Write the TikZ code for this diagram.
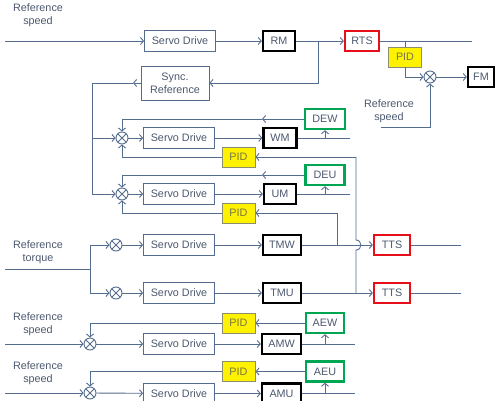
\documentclass[tikz,border=0pt]{standalone}
\usepackage{fontspec}
\setmainfont{Liberation Sans}
\usetikzlibrary{arrows.meta}
\definecolor{wire}{RGB}{84,108,142}
\definecolor{ink}{RGB}{76,88,110}
\definecolor{encgreen}{RGB}{0,166,82}
\definecolor{tsred}{RGB}{232,16,24}
\definecolor{pidline}{RGB}{140,140,110}
\definecolor{pidtext}{RGB}{118,118,70}
\tikzset{
	drive/.style={draw=wire, text=ink, align=center, minimum width=71, minimum height=21, inner sep=0},
	motor/.style={draw=black, line width=2.4pt, text=ink, minimum height=20, inner sep=0},
	sensor/.style={draw=tsred, line width=2.4pt, text=ink, minimum height=20, inner sep=0},
	encoder/.style={draw=encgreen, line width=2.4pt, text=ink, minimum height=20, inner sep=0},
	pidbox/.style={draw=pidline, fill=yellow, text=pidtext, minimum width=33, minimum height=20, inner sep=0},
	sumc/.style={circle, draw=wire, minimum size=12, inner sep=0,
		path picture={\draw[wire] (path picture bounding box.north west) -- (path picture bounding box.south east)
			(path picture bounding box.south west) -- (path picture bounding box.north east);}},
	lbl/.style={text=ink, align=center}
}

\begin{document}
\begin{tikzpicture}[x=1pt, y=-1pt, line width=0.9pt, color=wire,
		font=\fontsize{10.8}{13}\selectfont, >={Straight Barb[length=3pt,width=7pt]}]
			%%%%% START %%%%%
			\useasboundingbox (0,0) rectangle (496,401);
			\clip (0,0) rectangle (496,401);
			
			% reference speed -> RM -> RTS -> FM
			\node[lbl] (refA) at (38,15) {Reference\\speed};
			\coordinate (inA) at (5,41);
			\node[drive] (sdR) at (180,41) {Servo Drive};
			\node[motor, minimum width=32] (rm) at (279,41) {RM};
			\node[sensor, minimum width=34] (rtsR) at (362,41) {RTS};
			\coordinate (outR) at (472,41);
			\coordinate (tapR) at (318,41);
			\coordinate (tapP) at (405,41);
			\draw[->] (inA) -- (sdR);
			\draw[->] (sdR) -- (rm);
			\draw[->] (rm) -- (rtsR);
			\draw (rtsR) -- (outR);
			
			\node[pidbox] (pidF) at (405,57) {PID};
			\node[sumc] (sumF) at (430,77) {};
			\node[motor, minimum width=26] (fm) at (481,77) {FM};
			\node[lbl] (refF) at (389,111) {Reference\\speed};
			\coordinate (inF) at (381,127);
			\draw (tapP) -- (pidF);
			\draw[->] (pidF) |- (sumF);
			\draw[->] (sumF) -- (fm);
			\draw[->] (inF) -| (sumF);
			
			% sync reference
			\node[drive, minimum width=68, minimum height=34] (sync) at (175,83) {Sync.\\Reference};
			\coordinate (syncA) at (133,83);
			\coordinate (busT) at (92,83);
			\coordinate (busW) at (92,138);
			\coordinate (busU) at (92,194);
			\draw[->] (tapR) |- (sync);
			\draw[->] (sync) -- (syncA);
			\draw (syncA) -- (busT) -- (busU);
			
			% WM
			\node[sumc] (sumW) at (122,138) {};
			\node[drive] (sdW) at (179,138) {Servo Drive};
			\node[motor, minimum width=33] (wm) at (280,138) {WM};
			\node[encoder, minimum width=40] (dew) at (325,119) {DEW};
			\node[pidbox] (pidW) at (238.5,157) {PID};
			\coordinate (tapW) at (325,138);
			\coordinate (endW) at (350,138);
			\coordinate (midW) at (262,119);
			\coordinate (fbW) at (356,157);
			\draw[->] (busW) -- (sumW);
			\draw[->] (sumW) -- (sdW);
			\draw[->] (sdW) -- (wm);
			\draw (wm) -- (endW);
			\draw[->] (tapW) -- (dew);
			\draw[->] (dew) -- (midW);
			\draw[->] (midW) -| (sumW);
			\draw[->] (pidW) -| (sumW);
			\draw[->] (fbW) -- (pidW);
			
			% UM
			\node[sumc] (sumU) at (122,194) {};
			\node[drive] (sdU) at (179,194) {Servo Drive};
			\node[motor, minimum width=32] (um) at (280,194) {UM};
			\node[encoder, minimum width=39] (deu) at (325,175) {DEU};
			\node[pidbox] (pidU) at (238.5,213) {PID};
			\coordinate (tapU) at (325,194);
			\coordinate (endU) at (350,194);
			\coordinate (midU) at (262,175);
			\coordinate (fbU) at (337,213);
			\draw[->] (busU) -- (sumU);
			\draw[->] (sumU) -- (sdU);
			\draw[->] (sdU) -- (um);
			\draw (um) -- (endU);
			\draw[->] (tapU) -- (deu);
			\draw[->] (deu) -- (midU);
			\draw[->] (midU) -| (sumU);
			\draw[->] (pidU) -| (sumU);
			\draw[->] (fbU) -- (pidU);
			
			% reference torque -> TMW / TMU
			\node[lbl] (refT) at (38,252) {Reference\\torque};
			\coordinate (inT) at (5,269);
			\coordinate (busTM) at (90,269);
			\coordinate (busTW) at (90,245);
			\coordinate (busTU) at (90,293);
			\draw (inT) -- (busTM);
			\draw (busTW) -- (busTU);
			
			\node[sumc] (sumTW) at (116,245) {};
			\node[drive] (sdTW) at (179,245) {Servo Drive};
			\node[motor, minimum width=38] (tmw) at (282,245) {TMW};
			\node[sensor, minimum width=36] (ttsW) at (392,245) {TTS};
			\coordinate (tapTW) at (337,245);
			\coordinate (endTW) at (461,245);
			\draw[->] (busTW) -- (sumTW);
			\draw[->] (sumTW) -- (sdTW);
			\draw[->] (sdTW) -- (tmw);
			\draw[->] (tmw) -- (ttsW);
			\draw (ttsW) -- (endTW);
			\draw (tapTW) -- (fbU);
			
			\node[sumc] (sumTU) at (116,293) {};
			\node[drive] (sdTU) at (179,293) {Servo Drive};
			\node[motor, minimum width=38] (tmu) at (282,293) {TMU};
			\node[sensor, minimum width=36] (ttsU) at (392,293) {TTS};
			\coordinate (tapTU) at (356,293);
			\coordinate (endTU) at (461,293);
			\coordinate (jumpA) at (356,240);
			\coordinate (jumpB) at (356,250);
			\draw[->] (busTU) -- (sumTU);
			\draw[->] (sumTU) -- (sdTU);
			\draw[->] (sdTU) -- (tmu);
			\draw[->] (tmu) -- (ttsU);
			\draw (ttsU) -- (endTU);
			\draw (fbW) -- (jumpA) .. controls +(6.5,0) and +(6.5,0) .. (jumpB) -- (tapTU);
			
			% AMW
			\node[lbl] (refAW) at (38,324) {Reference\\speed};
			\coordinate (inAW) at (5,344);
			\node[sumc] (sumAW) at (90,344) {};
			\node[drive] (sdAW) at (179,344) {Servo Drive};
			\node[motor, minimum width=39] (amw) at (281.5,344) {AMW};
			\node[encoder, minimum width=38] (aew) at (325,323) {AEW};
			\node[pidbox] (pidAW) at (238.5,323) {PID};
			\coordinate (tapAW) at (325,344);
			\coordinate (endAW) at (355,344);
			\draw[->] (inAW) -- (sumAW);
			\draw[->] (sumAW) -- (sdAW);
			\draw[->] (sdAW) -- (amw);
			\draw (amw) -- (endAW);
			\draw[->] (tapAW) -- (aew);
			\draw[->] (aew) -- (pidAW);
			\draw[->] (pidAW) -| (sumAW);
			
			% AMU
			\node[lbl] (refAU) at (38,373) {Reference\\speed};
			\coordinate (inAU) at (5,393);
			\node[sumc] (sumAU) at (90,393) {};
			\node[drive] (sdAU) at (179,393.5) {Servo Drive};
			\node[motor, minimum width=39] (amu) at (281.5,393.5) {AMU};
			\node[encoder, minimum width=38] (aeu) at (325,371.5) {AEU};
			\node[pidbox] (pidAU) at (238.5,371.5) {PID};
			\coordinate (tapAU) at (325,393.5);
			\coordinate (endAU) at (355,393.5);
			\draw[->] (inAU) -- (sumAU);
			\draw[->] (sumAU) -- (sdAU);
			\draw[->] (sdAU) -- (amu);
			\draw (amu) -- (endAU);
			\draw[->] (tapAU) -- (aeu);
			\draw[->] (aeu) -- (pidAU);
			\draw[->] (pidAU) -| (sumAU);
			%%%%% END %%%%%
		\end{tikzpicture}
\end{document}
